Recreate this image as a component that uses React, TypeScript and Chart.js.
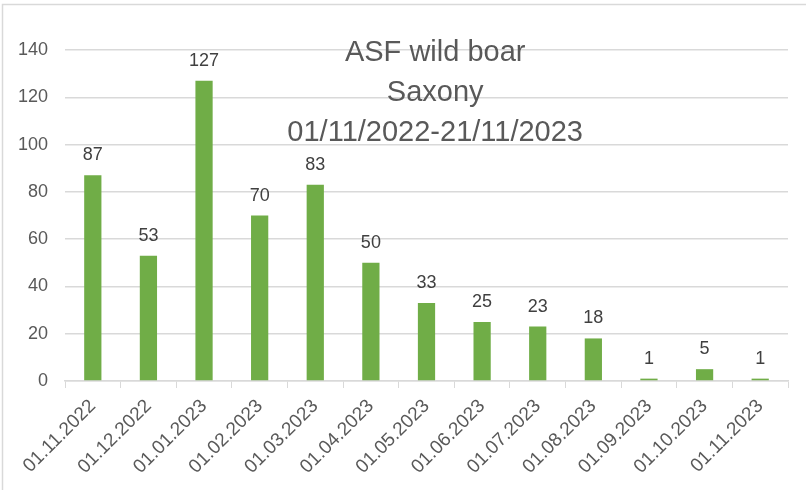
import React, { useEffect, useRef } from "react";
import { Chart, registerables } from "chart.js";

Chart.register(...registerables);

const categories = [
  "01.11.2022",
  "01.12.2022",
  "01.01.2023",
  "01.02.2023",
  "01.03.2023",
  "01.04.2023",
  "01.05.2023",
  "01.06.2023",
  "01.07.2023",
  "01.08.2023",
  "01.09.2023",
  "01.10.2023",
  "01.11.2023",
];
const cases = [87, 53, 127, 70, 83, 50, 33, 25, 23, 18, 1, 5, 1];
const titleLines = ["ASF wild boar", "Saxony", "01/11/2022-21/11/2023"];
const yMin = 0;
const yMax = 140;
const yStep = 20;

const FONT = "'Liberation Sans', Arial, sans-serif";
const GRID = "#d9d9d9";
const TEXT = "#595959";

const backgroundPlugin = {
  id: "bgBorder",
  beforeDraw(chart: any) {
    const ctx = chart.ctx;
    ctx.save();
    ctx.fillStyle = "#ffffff";
    ctx.fillRect(0, 0, chart.width, chart.height);
    ctx.strokeStyle = GRID;
    ctx.lineWidth = 1.5;
    ctx.strokeRect(2.5, 4.5, chart.width + 20, chart.height + 20);
    ctx.restore();
  },
};

const valueLabelPlugin = {
  id: "valueLabels",
  afterDatasetsDraw(chart: any) {
    const ctx = chart.ctx;
    const meta = chart.getDatasetMeta(0);
    ctx.save();
    ctx.font = `18px ${FONT}`;
    ctx.fillStyle = "#404040";
    ctx.textAlign = "center";
    ctx.textBaseline = "alphabetic";
    meta.data.forEach((bar: any, i: number) => {
      ctx.fillText(String(cases[i]), bar.x, bar.y - 15);
    });
    ctx.restore();
  },
};

const titlePlugin = {
  id: "innerTitle",
  afterDatasetsDraw(chart: any) {
    const ctx = chart.ctx;
    const area = chart.chartArea;
    const cx = area.left + (area.right - area.left) * 0.512;
    ctx.save();
    ctx.font = `29px ${FONT}`;
    ctx.fillStyle = TEXT;
    ctx.textAlign = "center";
    ctx.textBaseline = "alphabetic";
    titleLines.forEach((line, i) => {
      ctx.fillText(line, cx, area.top + 11 + i * 40);
    });
    ctx.restore();
  },
};

export default function App() {
  const ref = useRef<HTMLCanvasElement>(null);

  useEffect(() => {
    document.body.style.margin = "0";
    const canvas = ref.current;
    if (!canvas) return;
    const chart = new Chart(canvas, {
      type: "bar",
      data: {
        labels: categories,
        datasets: [
          {
            data: cases,
            backgroundColor: "#70AD47",
            barPercentage: 0.31,
            categoryPercentage: 1,
          },
        ],
      },
      options: {
        responsive: false,
        animation: false,
        layout: { padding: { top: 50, right: 18, left: 0, bottom: 0 } },
        plugins: {
          legend: { display: false },
          title: { display: false },
          tooltip: { enabled: false },
        },
        scales: {
          x: {
            grid: {
              drawOnChartArea: false,
              drawTicks: true,
              tickLength: 7,
              color: GRID,
              offset: true,
            },
            border: { color: GRID, width: 1.5 },
            ticks: {
              color: TEXT,
              font: { family: FONT, size: 19 },
              maxRotation: 45,
              minRotation: 45,
              autoSkip: false,
              padding: 7,
            },
            afterFit: (s: any) => {
              s.height = 109;
            },
          },
          y: {
            min: yMin,
            max: yMax,
            ticks: {
              stepSize: yStep,
              color: TEXT,
              font: { family: FONT, size: 18 },
              padding: 17,
            },
            grid: { color: GRID, drawTicks: false, lineWidth: 1.5 },
            border: { display: false },
            afterFit: (s: any) => {
              s.width = 65;
            },
          },
        },
      },
      plugins: [backgroundPlugin, valueLabelPlugin, titlePlugin],
    });
    return () => chart.destroy();
  }, []);

  return (
    <div style={{ width: 806, height: 490 }}>
      <canvas ref={ref} width={806} height={490} style={{ display: "block" }} />
    </div>
  );
}
